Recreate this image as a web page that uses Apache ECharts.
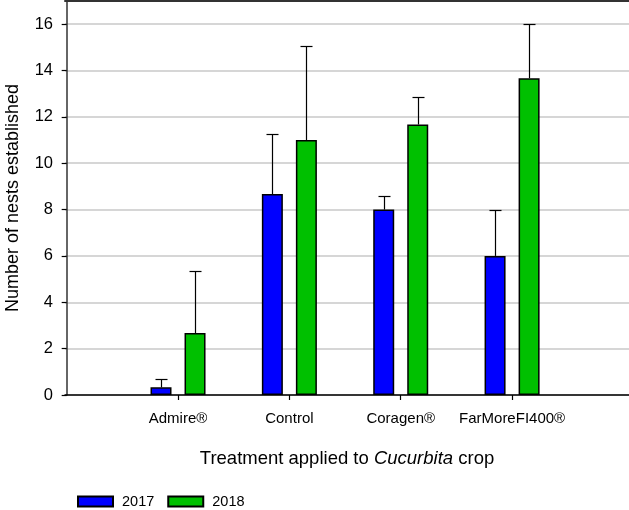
<!DOCTYPE html>
<html>
<head>
<meta charset="utf-8">
<script src="https://cdn.jsdelivr.net/npm/echarts@6/dist/echarts.min.js"></script>
<style>html,body{margin:0;padding:0;background:#fff;}#c{width:629px;height:510px;}</style>
</head>
<body>
<div id="c"></div>
<script>
const categories = ['Admire®', 'Control', 'Coragen®', 'FarMoreFI400®'];
const years = ['2017', '2018'];
const values2017 = [0.33, 8.67, 8.0, 6.0];
const upper2017 = [0.67, 11.27, 8.58, 8.0];
const values2018 = [2.67, 11.0, 11.67, 13.67];
const upper2018 = [5.33, 15.04, 12.87, 16.0];
const yTicks = [0, 2, 4, 6, 8, 10, 12, 14, 16];

const FONT = 'Liberation Sans, Arial, sans-serif';
const catPos = categories.map((c, i) => i + 1);

const chart = echarts.init(document.getElementById('c'), null, {renderer: 'canvas'});

function barData(vals) { return vals.map((v, i) => [catPos[i], v]); }
function errData(vals, ups) { return vals.map((v, i) => [catPos[i], v, ups[i]]); }
function errSeries(vals, ups, offset) {
  return {
    type: 'custom',
    z: 5,
    silent: true,
    xAxisIndex: 0,
    data: errData(vals, ups),
    encode: {x: 0, y: [1, 2]},
    renderItem: function (params, api) {
      const x = api.value(0), v = api.value(1), hi = api.value(2);
      const p0 = api.coord([x, v]);
      const p1 = api.coord([x, hi]);
      const cx = Math.round(p0[0] + offset) + 0.5;
      const yTop = Math.round(p1[1]) + 0.5;
      const style = {stroke: '#000', lineWidth: 1.2};
      return {
        type: 'group',
        children: [
          {type: 'line', shape: {x1: cx, y1: p0[1], x2: cx, y2: yTop}, style: style},
          {type: 'line', shape: {x1: cx - 6, y1: yTop, x2: cx + 6, y2: yTop}, style: style}
        ]
      };
    }
  };
}

const option = {
  backgroundColor: '#fff',
  animation: false,
  textStyle: {fontFamily: FONT},
  grid: {left: 65, right: 0, top: 1, bottom: 115, containLabel: false, outerBoundsMode: 'none'},
  legend: {
    data: years,
    left: 77,
    top: 494,
    padding: 0,
    itemWidth: 35,
    itemHeight: 10,
    itemGap: 13,
    icon: 'rect',
    textStyle: {fontFamily: FONT, fontSize: 14.5, color: '#000', padding: [0, 0, 0, 4]}
  },
  xAxis: [{
    type: 'value',
    min: -0.015,
    max: 5.05,
    name: '{n|Treatment applied to }{i|Cucurbita}{n| crop}',
    nameLocation: 'middle',
    nameGap: 54,
    nameTextStyle: {
      rich: {
        n: {fontFamily: FONT, fontSize: 18.5, fontWeight: 'normal', color: '#000'},
        i: {fontFamily: FONT, fontSize: 18.5, fontWeight: 'normal', fontStyle: 'italic', color: '#000'}
      }
    },
    axisLine: {show: true, lineStyle: {color: '#000', width: 1.5}},
    axisTick: {show: true, customValues: catPos, length: 5, inside: false, lineStyle: {color: '#000', width: 1.2}},
    axisLabel: {
      show: true,
      customValues: catPos,
      margin: 16,
      fontFamily: FONT,
      fontSize: 15,
      color: '#000',
      formatter: function (v) { return categories[Math.round(v) - 1] || ''; }
    },
    splitLine: {show: false}
  }, {
    type: 'value',
    position: 'top',
    min: -0.015,
    max: 5.05,
    axisLine: {show: true, lineStyle: {color: '#333', width: 2}},
    axisTick: {show: false},
    axisLabel: {show: false},
    splitLine: {show: false}
  }],
  yAxis: {
    type: 'value',
    min: 0,
    max: 17,
    interval: 2,
    name: 'Number of nests established',
    nameLocation: 'middle',
    nameGap: 43,
    nameTextStyle: {fontFamily: FONT, fontSize: 18, color: '#000'},
    axisLine: {show: true, lineStyle: {color: '#333', width: 1.5}},
    axisTick: {show: true, customValues: yTicks, length: 5, inside: false, lineStyle: {color: '#000', width: 1.2}},
    axisLabel: {show: true, customValues: yTicks, margin: 12, fontFamily: FONT, fontSize: 16.5, color: '#000'},
    splitLine: {show: true, lineStyle: {color: '#c8c8c8', width: 1.5}}
  },
  series: [
    {
      name: years[0],
      type: 'bar',
      barWidth: 21,
      barGap: '62%',
      data: barData(values2017),
      itemStyle: {color: '#0000ff', borderColor: '#000', borderWidth: 1.5}
    },
    {
      name: years[1],
      type: 'bar',
      barWidth: 21,
      barGap: '62%',
      data: barData(values2018),
      itemStyle: {color: '#00c000', borderColor: '#000', borderWidth: 1.5}
    },
    errSeries(values2017, upper2017, -17),
    errSeries(values2018, upper2018, 17)
  ]
};
chart.setOption(option);
</script>
</body>
</html>
